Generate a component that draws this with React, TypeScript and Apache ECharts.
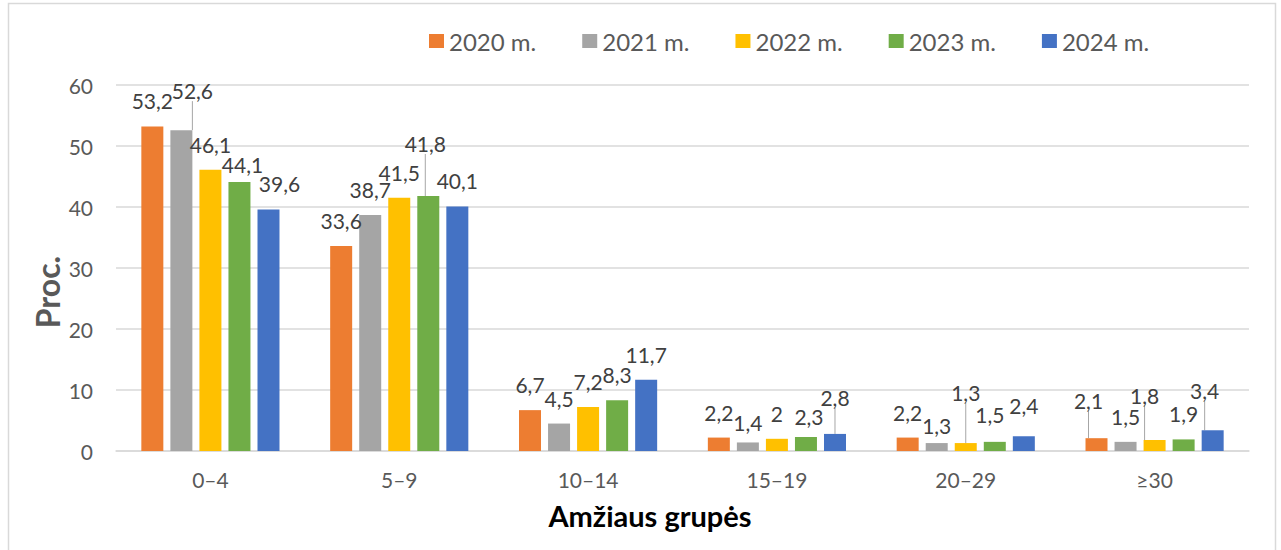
import React, { useEffect, useRef } from "react";
import * as echarts from "echarts";

// ---- data ----
const categories = ["0–4", "5–9", "10–14", "15–19", "20–29", "≥30"];
const seriesNames = ["2020 m.", "2021 m.", "2022 m.", "2023 m.", "2024 m."];
const v2020 = [53.2, 33.6, 6.7, 2.2, 2.2, 2.1];
const v2021 = [52.6, 38.7, 4.5, 1.4, 1.3, 1.5];
const v2022 = [46.1, 41.5, 7.2, 2, 1.3, 1.8];
const v2023 = [44.1, 41.8, 8.3, 2.3, 1.5, 1.9];
const v2024 = [39.6, 40.1, 11.7, 2.8, 2.4, 3.4];
const yMin = 0;
const yMax = 60;
const yStep = 10;
const yTitle = "Proc.";
const xTitle = "Amžiaus grupės";

// ---- style ----
const colors = ["#ED7D31", "#A5A5A5", "#FFC000", "#70AD47", "#4472C4"];
const FONT = "Lato, 'Open Sans', sans-serif";
const TEXT = "#595959";
// label nudges [dx, dy] per series / category (layout only)
const labelShift: number[][][] = [
  [[0, 0], [0, 0], [0, 0], [0, 0], [0, 0], [-8, -12]],
  [[11, -14], [0, 0], [0, 0], [0, 6], [0, 8], [0, 0]],
  [[0, 0], [0, 0], [0, 0], [0, 0], [0, -25], [-10, -19]],
  [[3, 8], [-3, -27], [0, 0], [3, 5], [-5, -2], [0, 0]],
  [[11, 0], [0, 0], [0, 0], [0, -11], [0, -5], [-8, -14]],
];
// which labels get a leader line
const leaders: number[][] = [
  [0, 5],
  [1, 0],
  [2, 4],
  [2, 5],
  [3, 1],
  [4, 3],
  [4, 5],
];

export default function App() {
  const ref = useRef<HTMLDivElement>(null);
  useEffect(() => {
    if (!ref.current) return;
    const chart = echarts.init(ref.current, undefined, { renderer: "svg" });
    const allValues = [v2020, v2021, v2022, v2023, v2024];
    const series = allValues.map((vals, si) => ({
      name: seriesNames[si],
      type: "bar",
      barWidth: 22,
      barGap: "32%",
      itemStyle: { color: colors[si] },
      data: vals.map((v, di) => {
        const hasLeader = leaders.some((l) => l[0] === si && l[1] === di);
        return hasLeader
          ? {
              value: v,
              labelLine: {
                show: true,
                lineStyle: { color: "#A6A6A6", width: 1 },
              },
            }
          : { value: v };
      }),
      label: {
        show: true,
        position: "top",
        distance: 15,
        color: "#404040",
        fontFamily: FONT,
        fontSize: 21,
        formatter: (p: any) => String(p.value).replace(".", ","),
      },
      labelLine: {
        show: false,
        lineStyle: { color: "#A6A6A6", width: 1 },
      },
      labelLayout: (p: any) => {
        const s = labelShift[si][p.dataIndex];
        return { dx: s[0], dy: s[1] };
      },
    }));

    chart.setOption({
      animation: false,
      backgroundColor: "#ffffff",
      legend: {
        data: seriesNames,
        left: 424,
        top: 24,
        icon: "rect",
        itemWidth: 15,
        itemHeight: 14,
        itemGap: 46,
        textStyle: { color: TEXT, fontFamily: FONT, fontSize: 24 },
      },
      grid: {
        left: 116,
        right: 32,
        top: 85,
        bottom: 99,
        containLabel: false,
        outerBoundsMode: "none",
      },
      xAxis: {
        type: "category",
        data: categories,
        axisLine: { lineStyle: { color: "#D9D9D9", width: 1.5 } },
        axisTick: { show: false },
        axisLabel: {
          color: TEXT,
          fontFamily: FONT,
          fontSize: 21,
          margin: 18,
        },
      },
      yAxis: {
        type: "value",
        min: yMin,
        max: yMax,
        interval: yStep,
        axisLine: { show: false },
        axisTick: { show: false },
        splitLine: { lineStyle: { color: "#D9D9D9", width: 1.5 } },
        axisLabel: {
          color: TEXT,
          fontFamily: FONT,
          fontSize: 21,
          margin: 23,
        },
      },
      graphic: [
        {
          type: "rect",
          shape: { x: 8.5, y: 3.5, width: 1267, height: 600 },
          style: { fill: "none", stroke: "#D9D9D9", lineWidth: 1.5 },
          silent: true,
        },
        {
          type: "text",
          x: 47,
          y: 292,
          rotation: Math.PI / 2,
          style: {
            text: yTitle,
            fill: TEXT,
            font: `bold 32px ${FONT}`,
            textAlign: "center",
            textVerticalAlign: "middle",
          },
        },
        {
          type: "text",
          x: 650,
          y: 515,
          style: {
            text: xTitle,
            fill: "#000000",
            font: `bold 29px ${FONT}`,
            textAlign: "center",
            textVerticalAlign: "middle",
          },
        },
      ],
      series,
    });
    return () => chart.dispose();
  }, []);
  return (
    <div
      ref={ref}
      style={{ position: "absolute", left: 0, top: 0, width: 1281, height: 550 }}
    />
  );
}
